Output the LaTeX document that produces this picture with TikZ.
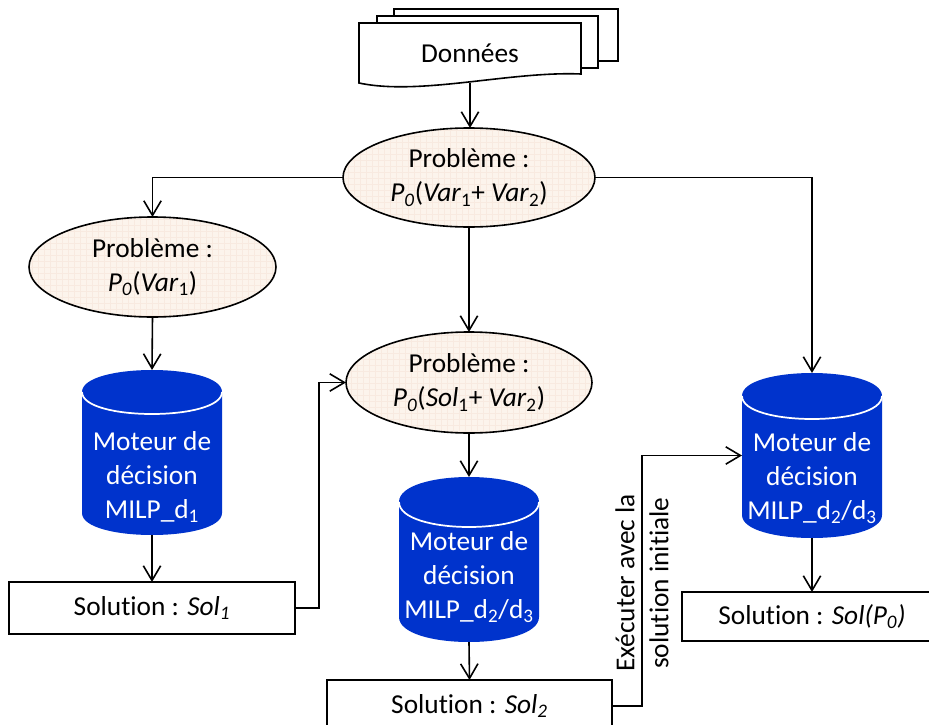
\documentclass[tikz,border=0pt]{standalone}
\usepackage{fontspec}
\setmainfont[Ligatures=NoCommon]{Carlito}
\usetikzlibrary{arrows.meta,shapes.geometric}
\definecolor{cylblue}{RGB}{0,51,204}
\definecolor{ellfill}{RGB}{252,244,236}
\definecolor{ellgrid}{RGB}{248,234,224}
\newcommand{\drawcyl}[5]{% L R T B ry
  \fill[cylblue] (#1,#3+#5) .. controls (#1,#3-#5/3) and (#2,#3-#5/3) .. (#2,#3+#5)
    -- (#2,#4-#5) .. controls (#2,#4+#5/3) and (#1,#4+#5/3) .. (#1,#4-#5) -- cycle;
  \draw[white,line width=1.3pt] (#1,#3+#5) .. controls (#1,#3+7*#5/3) and (#2,#3+7*#5/3) .. (#2,#3+#5);
}
\begin{document}
\begin{tikzpicture}[x=0.75pt,y=-0.75pt,
  every node/.style={font=\fontsize{20.5}{25.5}\selectfont, inner sep=0pt, outer sep=0pt},
  ln/.style={line width=1.2pt, black},
  arr/.style={ln, -{Straight Barb[length=11pt,width=13pt,line width=1.2pt]}},
  ellbox/.style={ellipse, draw, line width=1.2pt, fill=ellfill, align=center,
    path picture={\draw[ellgrid,line width=0.3pt] (path picture bounding box.south west) grid[step=4.5pt] (path picture bounding box.north east);}},
  cylbox/.style={minimum width=105pt, minimum height=123.75pt},
  cyltxt/.style={text=white, align=center},
  solbox/.style={draw, line width=1.2pt, fill=white, minimum width=214.5pt, minimum height=39pt}
]
\useasboundingbox (0,0) rectangle (929,725);

% Données stack
\filldraw[ln, fill=white] (394,9) rectangle (618,61);
\filldraw[ln, fill=white] (377,16) rectangle (598,68);
\filldraw[ln, fill=white] (359,23) -- (581,23) -- (581,74) .. controls (510,71) and (420,96) .. (359,83) -- cycle;
\node[minimum width=166.5pt, minimum height=45pt] (data) at (470,53) {Données};

% ellipses
\node[ellbox, minimum width=189pt, minimum height=74.25pt] (e1) at (469,177.5)
  {Problème :\\\textit{P}\textsubscript{\textit{0}}(\textit{Var}\textsubscript{1}+ \textit{Var}\textsubscript{2})};
\node[ellbox, minimum width=185.25pt, minimum height=75pt] (e2) at (152.5,267)
  {Problème :\\\textit{P}\textsubscript{\textit{0}}(\textit{Var}\textsubscript{1})};
\node[ellbox, minimum width=184.5pt, minimum height=75.75pt] (e3) at (469,382.5)
  {Problème :\\\textit{P}\textsubscript{\textit{0}}(\textit{Sol}\textsubscript{1}+ \textit{Var}\textsubscript{2})};

% cylinders
\drawcyl{82}{222}{370}{535}{22}
\node[cylbox] (c1) at (152,452.5) {};
\node[cyltxt] at (152,477) {Moteur de\\décision\\MILP\_d\textsubscript{1}};
\drawcyl{399}{539}{477}{642}{25}
\node[cylbox] (c2) at (469,559.5) {};
\node[cyltxt] at (469,577) {Moteur de\\décision\\MILP\_d\textsubscript{2}/d\textsubscript{3}};
\drawcyl{742}{882}{373}{538}{23}
\node[cylbox] (c3) at (812,455.5) {};
\node[cyltxt] at (812,478) {Moteur de\\décision\\MILP\_d\textsubscript{2}/d\textsubscript{3}};

% solution boxes
\node[solbox] (b1) at (152,608) {Solution : \textit{Sol}\textsubscript{\textit{1}}};
\node[solbox, minimum width=213.75pt] (b2) at (469.5,706) {Solution : \textit{Sol}\textsubscript{\textit{2}}};
\node[solbox, minimum width=195pt, minimum height=36.75pt] (b3) at (812,616.5) {Solution : \textit{Sol(P}\textsubscript{\textit{0}}\textit{)}};

% label
\node[rotate=90, align=center] (lbl) at (642,583) {Exécuter avec la\\solution initiale};

% connectors
\draw[arr] (data.south) -- (data.south |- e1.north);
\draw[arr] (e1.west) -| (e2.north);
\draw[arr] (e1.east) -| (c3.north);
\draw[arr] (e1.south) -- (e3.north);
\draw[arr] (e2.south) -- (c1.north);
\draw[arr] (c1.south) -- (b1.north);
\draw[arr] (b1.east) -- ++(24,0) |- (e3.west);
\draw[arr] (e3.south) -- (c2.north);
\draw[arr] (c2.south) -- (b2.north);
\draw[arr] (b2.east) -- ++(30,0) |- (c3.west);
\draw[arr] (c3.south) -- (b3.north);
\end{tikzpicture}
\end{document}
